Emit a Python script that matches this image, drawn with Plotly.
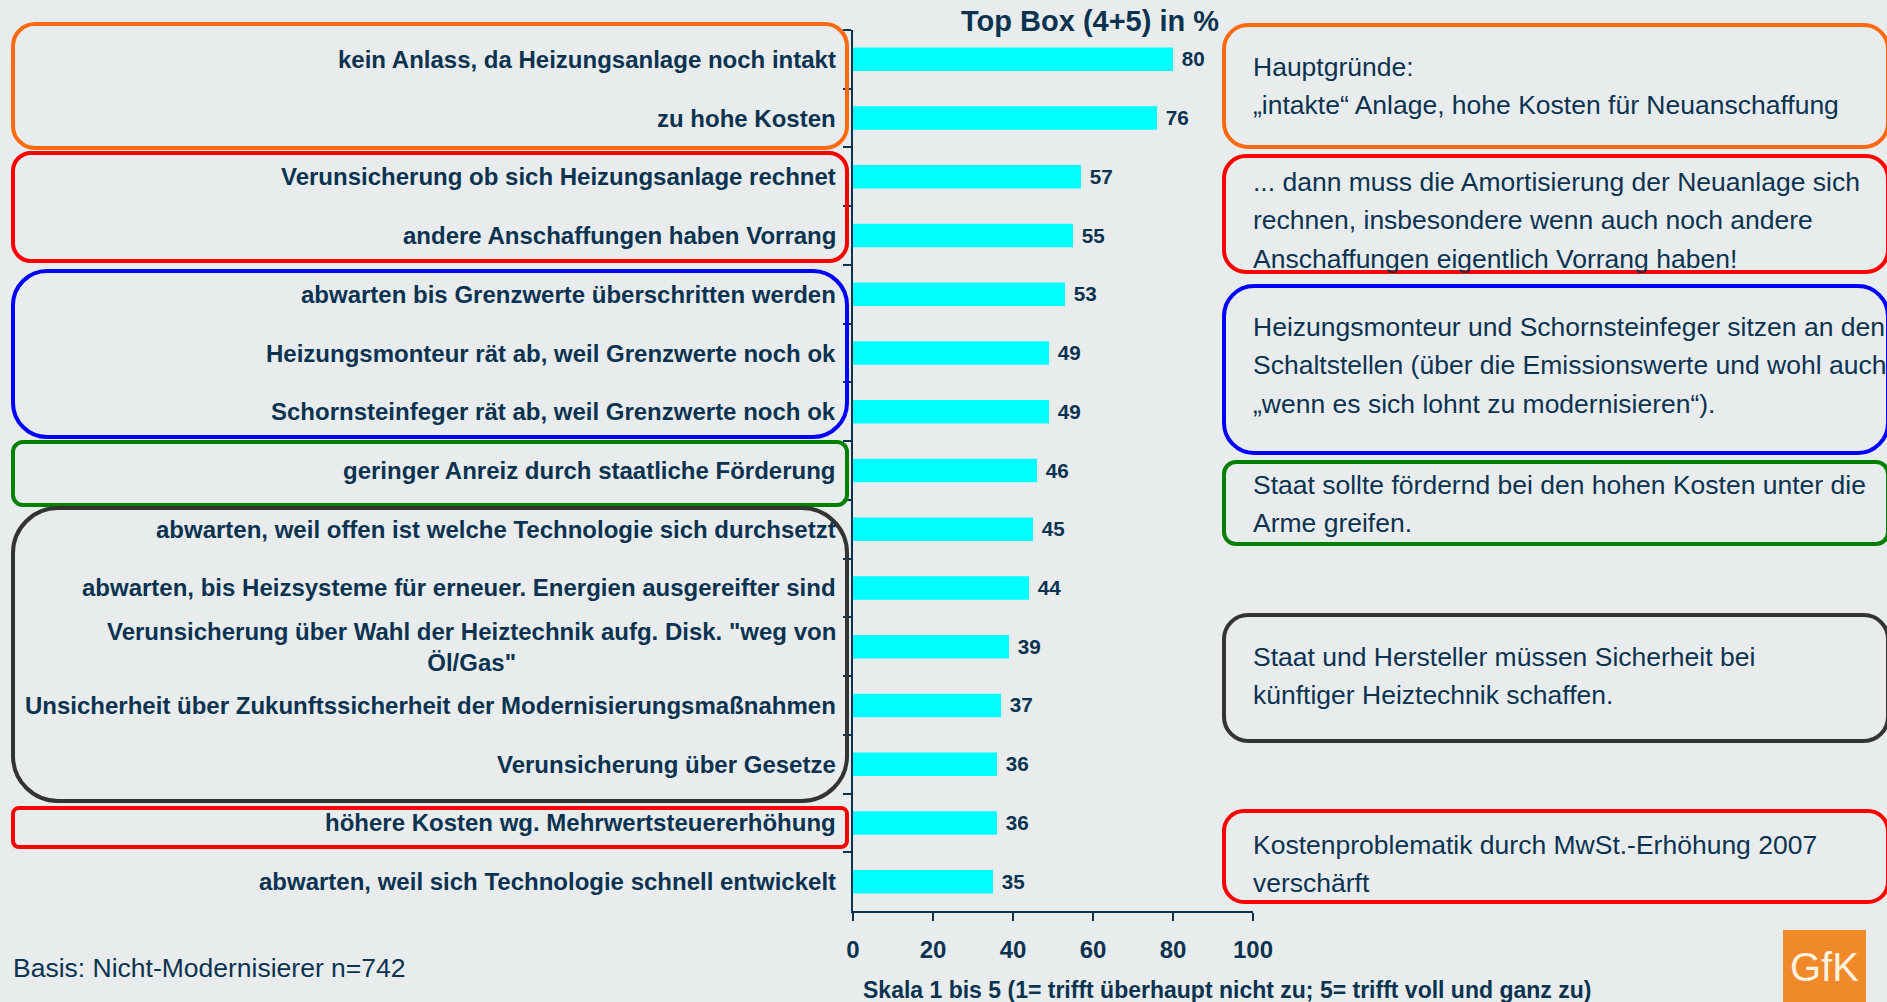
import plotly.graph_objects as go

# data
labels = [
    "kein Anlass, da Heizungsanlage noch intakt",
    "zu hohe Kosten",
    "Verunsicherung ob sich Heizungsanlage rechnet",
    "andere Anschaffungen haben Vorrang",
    "abwarten bis Grenzwerte überschritten werden",
    "Heizungsmonteur rät ab, weil Grenzwerte noch ok",
    "Schornsteinfeger rät ab, weil Grenzwerte noch ok",
    "geringer Anreiz durch staatliche Förderung",
    "abwarten, weil offen ist welche Technologie sich durchsetzt",
    "abwarten, bis Heizsysteme für erneuer. Energien ausgereifter sind",
    "Verunsicherung über Wahl der Heiztechnik aufg. Disk. \"weg von<br>Öl/Gas\"",
    "Unsicherheit über Zukunftssicherheit der Modernisierungsmaßnahmen",
    "Verunsicherung über Gesetze",
    "höhere Kosten wg. Mehrwertsteuererhöhung",
    "abwarten, weil sich Technologie schnell entwickelt",
]
values = [80, 76, 57, 55, 53, 49, 49, 46, 45, 44, 39, 37, 36, 36, 35]

notes = [
    ["Hauptgründe:", "„intakte“ Anlage, hohe Kosten für Neuanschaffung"],
    ["... dann muss die Amortisierung der Neuanlage sich",
     "rechnen, insbesondere wenn auch noch andere",
     "Anschaffungen eigentlich Vorrang haben!"],
    ["Heizungsmonteur und Schornsteinfeger sitzen an den",
     "Schaltstellen (über die Emissionswerte und wohl auch",
     "„wenn es sich lohnt zu modernisieren“)."],
    ["Staat sollte fördernd bei den hohen Kosten unter die", "Arme greifen."],
    ["Staat und Hersteller müssen Sicherheit bei", "künftiger Heiztechnik schaffen."],
    ["Kostenproblematik durch MwSt.-Erhöhung 2007", "verschärft"],
]

title_text = "Top Box (4+5) in %"
scale_text = "Skala 1 bis 5 (1= trifft überhaupt nicht zu; 5= trifft voll und ganz zu)"
basis_text = "Basis: Nicht-Modernisierer n=742"

# layout in pixels
W, H = 1887, 1002
L, R, T, B = 853, 1253, 30, 911
PW, PH = R - L, B - T

NAVY = "#0b3350"
BG = "#e8eced"
FONT = "Liberation Sans"


def px(x):
    return (x - L) / PW


def py(y):
    return (B - y) / PH


def rrect(x0, y0, x1, y1, r):
    k = 0.45
    pts = [
        ("M", [(x0 + r, y0)]),
        ("L", [(x1 - r, y0)]),
        ("C", [(x1 - r * k, y0), (x1, y0 + r * k), (x1, y0 + r)]),
        ("L", [(x1, y1 - r)]),
        ("C", [(x1, y1 - r * k), (x1 - r * k, y1), (x1 - r, y1)]),
        ("L", [(x0 + r, y1)]),
        ("C", [(x0 + r * k, y1), (x0, y1 - r * k), (x0, y1 - r)]),
        ("L", [(x0, y0 + r)]),
        ("C", [(x0, y0 + r * k), (x0 + r * k, y0), (x0 + r, y0)]),
    ]
    s = ""
    for cmd, pp in pts:
        s += cmd + " " + " ".join("%.5f,%.5f" % (px(a), py(b)) for a, b in pp) + " "
    return s + "Z"


fig = go.Figure()
fig.add_trace(go.Bar(
    x=values, y=labels, orientation="h",
    marker=dict(color="#00ffff", line=dict(width=0)),
    width=0.4,
    text=values, texttemplate=" %{text}", textposition="outside",
    textfont=dict(family=FONT, size=22, color=NAVY, weight="bold"),
    cliponaxis=False,
))

shapes = []
left_boxes = [
    ("#ff6a10", 24, 148, 22),
    ("#ff0000", 153, 261, 18),
    ("#0000ff", 271, 437, 34),
    ("#008000", 442, 505, 10),
    ("#333333", 508, 801, 45),
    ("#ff0000", 808, 847, 6),
]
for c, y0, y1, r in left_boxes:
    shapes.append(dict(type="path", xref="paper", yref="paper", path=rrect(13, y0, 847, y1, r),
                       line=dict(color=c, width=4), layer="above"))

right_boxes = [
    ("#ff6a10", 25, 147, 24),
    ("#ff0000", 156, 272, 22),
    ("#0000ff", 286, 453, 30),
    ("#008000", 462, 544, 12),
    ("#333333", 615, 741, 24),
    ("#ff0000", 811, 902, 20),
]
for c, y0, y1, r in right_boxes:
    shapes.append(dict(type="path", xref="paper", yref="paper", path=rrect(1224, y0, 1888, y1, r),
                       line=dict(color=c, width=4), layer="above"))

# GfK logo
shapes.append(dict(type="rect", xref="paper", yref="paper", x0=px(1783), x1=px(1866),
                   y0=py(1010), y1=py(930), fillcolor="#f0892a", line=dict(width=0)))

annotations = []
for lab in labels:
    annotations.append(dict(x=px(838), y=lab, xref="paper", yref="y", text=lab,
                            xanchor="right", yanchor="middle", align="center", showarrow=False,
                            font=dict(family=FONT, size=24, color=NAVY, weight="bold")))

note_tops = [67, 182, 327, 485, 657, 845]
for lines, y0 in zip(notes, note_tops):
    for i, line in enumerate(lines):
        annotations.append(dict(x=px(1251), y=py(y0 + i * 38.3), xref="paper", yref="paper",
                                text=line, xanchor="left", yanchor="middle", showarrow=False,
                                font=dict(family=FONT, size=26.5, color=NAVY)))

annotations.append(dict(x=px(1090), y=py(21), xref="paper", yref="paper", text=title_text,
                        xanchor="center", yanchor="middle", showarrow=False,
                        font=dict(family=FONT, size=29, color=NAVY, weight="bold")))
annotations.append(dict(x=px(861), y=py(990), xref="paper", yref="paper", text=scale_text,
                        xanchor="left", yanchor="middle", showarrow=False,
                        font=dict(family=FONT, size=23, color=NAVY, weight="bold")))
annotations.append(dict(x=px(11), y=py(968), xref="paper", yref="paper", text=basis_text,
                        xanchor="left", yanchor="middle", showarrow=False,
                        font=dict(family=FONT, size=26.5, color=NAVY)))
annotations.append(dict(x=px(1824), y=py(967), xref="paper", yref="paper", text="GfK",
                        xanchor="center", yanchor="middle", showarrow=False,
                        font=dict(family=FONT, size=40, color="#fff3e0")))

fig.update_layout(
    width=W, height=H,
    margin=dict(l=L, r=W - R, t=T, b=H - B, pad=0),
    paper_bgcolor=BG, plot_bgcolor=BG,
    showlegend=False,
    shapes=shapes, annotations=annotations,
    xaxis=dict(range=[0, 100], dtick=20, showgrid=False, zeroline=False,
               showline=True, linecolor=NAVY, linewidth=2,
               ticks="outside", ticklen=8, tickwidth=2, tickcolor=NAVY,
               ticklabelstandoff=8,
               tickfont=dict(family=FONT, size=24, color=NAVY, weight="bold")),
    yaxis=dict(autorange="reversed", showticklabels=False, showgrid=False,
               showline=True, linecolor=NAVY, linewidth=2,
               ticks="outside", tickson="boundaries", ticklen=8, tickwidth=2, tickcolor=NAVY),
)

# page without body margin so the figure fills the window
fig.write_html("out.html", config={"displayModeBar": False},
               post_script="document.body.style.margin='0';document.body.style.background='%s';" % BG)
